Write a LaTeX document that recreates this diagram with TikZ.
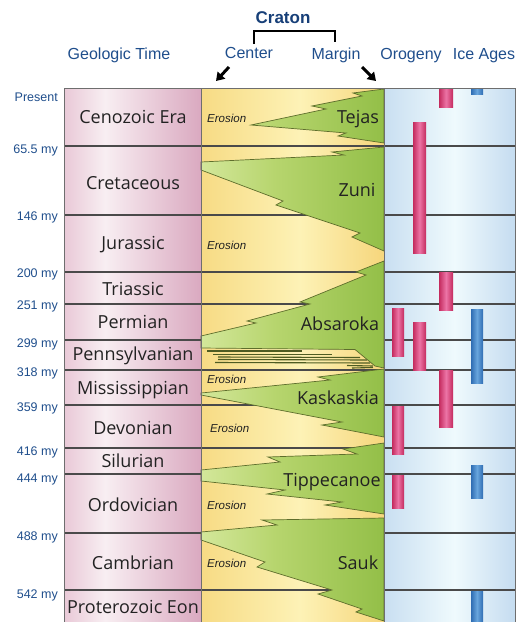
\documentclass[tikz,border=0pt]{standalone}
\usepackage{fontspec}
\setmainfont{Liberation Sans}
\newfontfamily\perfont{Open Sans}
\usetikzlibrary{arrows.meta}
\definecolor{pk1}{HTML}{E9C9D7}
\definecolor{pk2}{HTML}{F8EEF2}
\definecolor{pk3}{HTML}{DAA9C0}
\definecolor{ye1}{HTML}{F7DB84}
\definecolor{ye2}{HTML}{FDF2B6}
\definecolor{ye3}{HTML}{F6D67C}
\definecolor{gr1}{HTML}{D3E79A}
\definecolor{gr2}{HTML}{B7D56E}
\definecolor{gr3}{HTML}{93BF48}
\definecolor{bl1}{HTML}{C9DFF1}
\definecolor{bl2}{HTML}{EFFAFD}
\definecolor{bl3}{HTML}{C5DCF0}
\definecolor{bp1}{HTML}{C42B5E}
\definecolor{bp2}{HTML}{EC74A6}
\definecolor{bb1}{HTML}{2F6DB3}
\definecolor{bb2}{HTML}{68A5DD}
\definecolor{lineC}{HTML}{4A4A4A}
\definecolor{borderC}{HTML}{6E6E6E}
\definecolor{wedgeC}{HTML}{5E6E2C}
\definecolor{stripeC}{HTML}{4E5C22}
\definecolor{labC}{HTML}{1F4E8C}
\definecolor{crC}{HTML}{173F78}
\definecolor{perC}{HTML}{222222}
\pgfdeclarehorizontalshading{pinkshade}{100bp}{color(0bp)=(pk1); color(25bp)=(pk1); color(40bp)=(pk2); color(75bp)=(pk3); color(100bp)=(pk3)}
\pgfdeclarehorizontalshading{yellowshade}{100bp}{color(0bp)=(ye1); color(25bp)=(ye1); color(52bp)=(ye2); color(75bp)=(ye3); color(100bp)=(ye3)}
\pgfdeclarehorizontalshading{greenshade}{100bp}{color(0bp)=(gr1); color(25bp)=(gr1); color(45bp)=(gr2); color(75bp)=(gr3); color(100bp)=(gr3)}
\pgfdeclarehorizontalshading{blueshade}{100bp}{color(0bp)=(bl1); color(25bp)=(bl1); color(52bp)=(bl2); color(75bp)=(bl3); color(100bp)=(bl3)}
\newcommand{\greenwedge}[1]{%
  \begin{scope}\clip #1;\shade[shading=greenshade] (201,88) rectangle (384,622);\end{scope}%
  \draw[wedgeline] #1;}
\begin{document}
\begin{tikzpicture}[x=1pt,y=-1pt,
  hline/.style={draw=lineC, line width=1.1pt},
  colborder/.style={draw=borderC, line width=0.9pt},
  wedgeline/.style={draw=wedgeC, line width=0.7pt, line join=miter},
  stripe/.style={draw=stripeC, line width=1.1pt},
  timelab/.style={anchor=mid east, inner sep=0pt, yshift=-2.5pt, text=labC, font=\fontsize{12.5}{14}\selectfont},
  perlab/.style={anchor=mid, inner sep=0pt, yshift=-4pt, text=perC, font=\perfont\fontsize{18}{20}\selectfont},
  seqlab/.style={anchor=mid, inner sep=0pt, yshift=-4.5pt, text=perC, font=\perfont\fontsize{18}{20}\selectfont},
  erolab/.style={anchor=mid west, inner sep=0pt, yshift=-2pt, text=perC, font=\fontsize{11.5}{13}\selectfont\itshape},
  hdr/.style={anchor=mid, inner sep=0pt, yshift=-4pt, text=labC, font=\fontsize{16}{18}\selectfont},
  arr/.style={line width=3pt, -{Triangle[length=8pt,width=10pt]}},
  bracket/.style={draw=black, line width=1.4pt},
  pinkbar/.style={left color=bp1, right color=bp1, middle color=bp2},
  bluebar/.style={left color=bb1, right color=bb1, middle color=bb2}]
\useasboundingbox (0,0) rectangle (518,622);
% column fills
\shade[shading=pinkshade] (64,88) rectangle (201,622);
\shade[shading=yellowshade] (201,88) rectangle (384,622);
\shade[shading=blueshade] (384,88) rectangle (515,622);
% period boundaries
\foreach \y in {146,215,272,304,340,370,405,448,474,533,590}
  \draw[hline] (64,\y) -- (515,\y);
% sequences
\greenwedge{(384,89) -- (353,93) -- (362,96) -- (312,106) -- (326,109) -- (251,125) -- (346,133) -- (338,136) -- (384,143) -- cycle}
\greenwedge{(384,147) -- (332,152) -- (344,155) -- (201,162) -- (201,170) -- (283,201) -- (276,205) -- (360,233) -- (352,237) -- (384,251) -- cycle}
\greenwedge{(384,261) -- (356,272) -- (366,275) -- (300,302) -- (310,304) -- (247,321) -- (256,323) -- (201,336) -- (201,348) -- (355,349.5) -- (375,366) -- (384,368) -- cycle}
\greenwedge{(384,369) -- (318,377) -- (330,380) -- (201,393) -- (201,395) -- (342,422) -- (322,425) -- (384,437) -- cycle}
\greenwedge{(384,443) -- (343,449) -- (357,454) -- (268,457) -- (280,462) -- (201,470) -- (201,481) -- (285,490) -- (267,494) -- (342,502) -- (325,505) -- (384,514) -- cycle}
\greenwedge{(384,518) -- (262,520) -- (277,525) -- (201,532) -- (201,540) -- (265,562) -- (257,567) -- (332,590) -- (318,594) -- (362,609) -- (356,612) -- (384,621) -- cycle}
% Pennsylvanian cyclothems
\draw[stripe] (207,351) -- (302,351);
\draw[stripe] (213,354.5) -- (332,354.5);
\draw[stripe] (218,357) -- (360,357.5);
\draw[stripe] (218,359.5) -- (367,360);
\draw[stripe] (215,362.5) -- (370,363);
\draw[stripe] (347,365.5) -- (373,366);
\draw[stripe] (352,368) -- (373,367.5);
% orogeny bars
\shade[pinkbar] (439,88) rectangle (453,107);
\shade[pinkbar] (413,122) rectangle (426,253);
\shade[pinkbar] (439,272) rectangle (453,310);
\shade[pinkbar] (392,308) rectangle (404,356);
\shade[pinkbar] (413,322) rectangle (426,370);
\shade[pinkbar] (439,370) rectangle (453,427);
\shade[pinkbar] (392,406) rectangle (404,454);
\shade[pinkbar] (392,475) rectangle (404,508);
% ice age bars
\shade[bluebar] (471,88) rectangle (483,94);
\shade[bluebar] (471,309) rectangle (483,383);
\shade[bluebar] (471,465) rectangle (483,498);
\shade[bluebar] (471,591) rectangle (483,622);
% column borders
\draw[colborder] (64,622) -- (64,88) -- (515,88) -- (515,622);
\draw[colborder] (201,88) -- (201,622);
\draw[colborder] (384,88) -- (384,622);
% header
\node[anchor=mid, inner sep=0pt, yshift=-4pt, text=crC, font=\fontsize{17}{19}\selectfont\bfseries] (craton) at (283,17) {Craton};
\coordinate (brl) at (254,44);
\coordinate (brr) at (335,42);
\draw[bracket] (brl) -- ++(0,-13) -- ++(81,0) -- (brr);
\node[hdr] (geo) at (119,53) {Geologic Time};
\node[hdr] (center) at (249,52) {Center};
\node[hdr] (margin) at (336,53) {Margin};
\node[hdr] (orog) at (411,53) {Orogeny};
\node[hdr] (ice) at (484,53) {Ice Ages};
\coordinate (ct) at (229,67);
\coordinate (ch) at (216,81);
\coordinate (mt) at (362,67);
\coordinate (mh) at (376,81);
\draw[arr] (ct) -- (ch);
\draw[arr] (mt) -- (mh);
% time labels
\foreach \y/\t [count=\i] in {96/Present, 148/65.5 my, 215/146 my, 272/200 my, 304/251 my, 342/299 my, 371/318 my, 406/359 my, 450/416 my, 477/444 my, 535/488 my, 593/542 my}
  \node[timelab] (t\i) at (58,\y) {\t};
% period names
\foreach \y/\t [count=\i] in {117/Cenozoic Era, 183/Cretaceous, 243/Jurassic, 289/Triassic, 322/Permian, 354/Pennsylvanian, 388/Mississippian, 428/Devonian, 461/Silurian, 505/Ordovician, 563/Cambrian, 607/Proterozoic Eon}
  \node[perlab] (p\i) at (133,\y) {\t};
% sequence names
\node[seqlab] (tejas) at (358,116) {Tejas};
\node[seqlab] (zuni) at (357,189) {Zuni};
\node[seqlab] (absaroka) at (340,323) {Absaroka};
\node[seqlab] (kaskaskia) at (338,397) {Kaskaskia};
\node[seqlab] (tippecanoe) at (332,479) {Tippecanoe};
\node[seqlab] (sauk) at (358,562) {Sauk};
% erosion labels
\node[erolab] (e1) at (207,118) {Erosion};
\node[erolab] (e2) at (207,245) {Erosion};
\node[erolab] (e3) at (207,379) {Erosion};
\node[erolab] (e4) at (210,428) {Erosion};
\node[erolab] (e5) at (207,505) {Erosion};
\node[erolab] (e6) at (207,563) {Erosion};
\end{tikzpicture}
\end{document}
